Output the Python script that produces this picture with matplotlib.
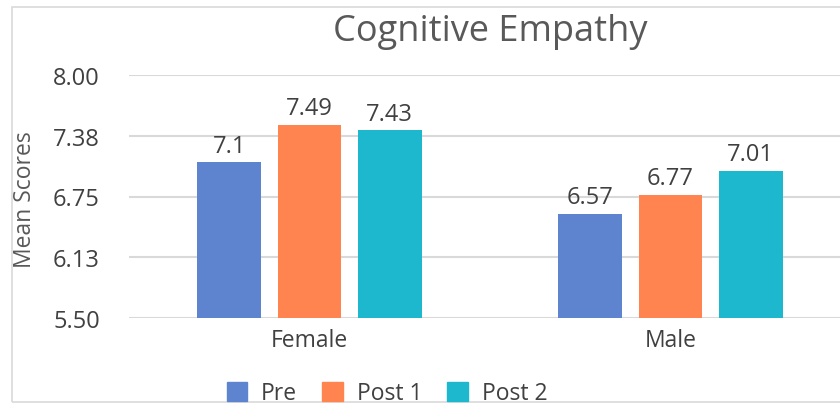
import matplotlib
matplotlib.use("Agg")
import matplotlib.pyplot as plt
from matplotlib.patches import Rectangle
import numpy as np

categories = ["Female", "Male"]
series_names = ["Pre", "Post 1", "Post 2"]
pre = [7.10, 6.57]
post1 = [7.49, 6.77]
post2 = [7.43, 7.01]
value_labels = [["7.1", "6.57"], ["7.49", "6.77"], ["7.43", "7.01"]]
yticks = [5.50, 6.125, 6.75, 7.375, 8.00]
ytick_labels = ["5.50", "6.13", "6.75", "7.38", "8.00"]

colors = ["#5F84CF", "#FF844F", "#1DB7CE"]
text_color = "#404040"
plt.rcParams['font.family'] = ['Open Sans', 'DejaVu Sans']

W, H = 840, 406
fig = plt.figure(figsize=(W/100, H/100), dpi=100)
fig.patch.set_facecolor("white")

# outer frame
fig.add_artist(Rectangle((12/W, 1 - 403/H), 1.0, (403-8)/H, transform=fig.transFigure,
                         fill=False, edgecolor="#D9D9D9", linewidth=1.2))

left, right = 129, 851
top, bottom = 76, 319
ax = fig.add_axes([left/W, 1 - bottom/H, (right-left)/W, (bottom-top)/H])

x = np.arange(len(categories))
bw = 0.177
step = 0.222
all_series = [pre, post1, post2]
for i, (vals, c, name) in enumerate(zip(all_series, colors, series_names)):
    pos = x + (i - 1) * step
    ax.bar(pos, vals, width=bw, color=c, label=name, zorder=3)
    for p, v, lab in zip(pos, vals, value_labels[i]):
        ax.text(p, v + 0.05, lab, ha="center", va="bottom", fontsize=17,
                color=text_color)

ax.set_xlim(-0.5, 1.5)
ax.set_ylim(5.5, 8.0)
ax.set_yticks(yticks)
ax.set_yticklabels(ytick_labels, fontsize=17, color=text_color)
ax.set_xticks(x)
ax.set_xticklabels(categories, fontsize=16.5, color=text_color)
ax.tick_params(axis="both", length=0)
ax.tick_params(axis="y", pad=21)
ax.tick_params(axis="x", pad=7)
ax.grid(axis="y", color="#D9D9D9", linewidth=1.5, zorder=0)
for s in ax.spines.values():
    s.set_visible(False)
ax.set_facecolor("none")

fig.text(25/W, 1 - 200/H, "Mean Scores", rotation=90, ha="center", va="center",
         fontsize=16.5, color="#595959")
fig.text(490/W, 1 - 32/H, "Cognitive Empathy", ha="center", va="center",
         fontsize=26, color="#595959")

handles = [Rectangle((0, 0), 1, 1, color=c) for c in colors]
fig.legend(handles, series_names, loc="center", bbox_to_anchor=(387/W, 1 - 394/H),
           ncol=3, frameon=False, fontsize=16.5, handlelength=0.9, handleheight=0.9,
           columnspacing=1.1, handletextpad=0.6, labelcolor=text_color)

fig.savefig("out.png", dpi=100)
